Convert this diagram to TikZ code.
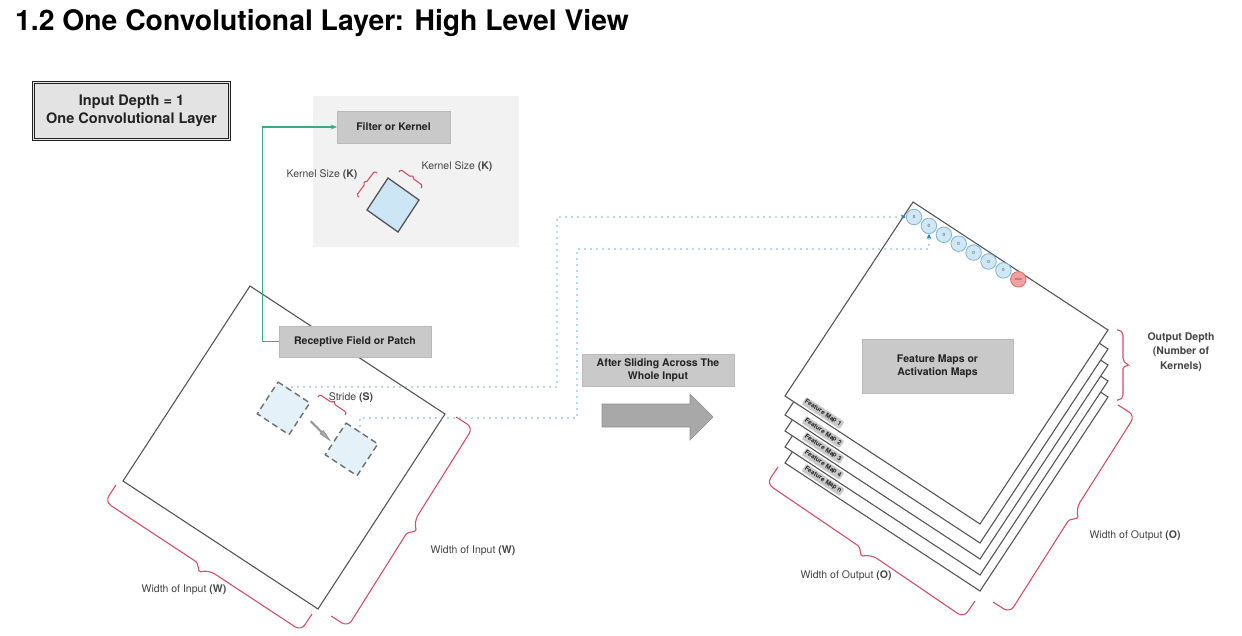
\documentclass[tikz,border=0pt]{standalone}
\usepackage{fontspec}
\setmainfont{TeX Gyre Heros}
\usetikzlibrary{arrows.meta,calc}
\definecolor{panel}{HTML}{F2F2F2}
\definecolor{boxgray}{HTML}{C9C9C9}
\definecolor{boxlight}{HTML}{E3E3E3}
\definecolor{txtdark}{HTML}{222222}
\definecolor{txtlabel}{HTML}{444444}
\definecolor{edge}{HTML}{555555}
\definecolor{kernfill}{HTML}{CDE6F5}
\definecolor{patchfill}{HTML}{E4F1F8}
\definecolor{conngreen}{HTML}{3DAA80}
\definecolor{dotteal}{HTML}{6FB8C2}
\definecolor{tipblue}{HTML}{2E7DB5}
\definecolor{bracered}{HTML}{D0506A}
\definecolor{arrowgray}{HTML}{A8A8A8}
\definecolor{cellfill}{HTML}{CFE7F6}
\definecolor{celldraw}{HTML}{7FB2D3}
\definecolor{redfill}{HTML}{F2A0A0}
\definecolor{reddraw}{HTML}{D86A6A}
\newcommand\redbrace[5][7pt]{%
  \coordinate (rbP) at ($(#2)!#4!90:(#3)$);
  \coordinate (rbQ) at ($(#3)!#4!-90:(#2)$);
  \coordinate (rbM) at ($(#2)!0.5!(#3)$);
  \coordinate (rbT) at ($(rbM)!#5!90:(#3)$);
  \draw[bracestyle] (#2) [rounded corners=#1] -- (rbP) -- ($(rbP)!0.47!(rbQ)$) [rounded corners=1.5pt] -- (rbT) -- ($(rbP)!0.53!(rbQ)$) [rounded corners=#1] -- (rbQ) -- (#3);}
\begin{document}
\begin{tikzpicture}[x=1pt,y=-1pt,
  every node/.style={inner sep=0pt, text=txtdark},
  graybox/.style={fill=boxgray, draw=boxgray!92!black, line width=0.4pt, align=center, font=\bfseries\fontsize{10.5}{13}\selectfont},
  lbl/.style={font=\fontsize{10.5}{13}\selectfont, text=txtlabel},
  sq/.style={draw=edge, line width=1.1pt, line join=miter},
  layer/.style={draw=edge, fill=white, line width=1.1pt, line join=miter},
  patch/.style={draw=edge!85, fill=patchfill, line width=1.4pt, dash pattern=on 6pt off 4pt},
  kern/.style={draw=edge, fill=kernfill, line width=1.3pt},
  bracestyle/.style={draw=bracered, line width=1.1pt},
  gconn/.style={draw=conngreen, line width=1.3pt, -{Stealth[length=6pt,width=5pt]}},
  dotconn/.style={draw=dotteal, line width=1.7pt, line cap=round, dash pattern=on 0pt off 6pt, -{Stealth[length=5pt,width=5pt,color=tipblue]}},
  cell/.style={circle, draw=celldraw, fill=cellfill, line width=0.8pt, minimum size=15.5pt, font=\fontsize{4.5}{4.5}\selectfont, text=txtlabel},
  redcell/.style={circle, draw=reddraw, fill=redfill, line width=0.8pt, minimum size=15.5pt, font=\fontsize{3}{3}\selectfont, text=txtlabel},
  fmlabel/.style={fill=boxgray, rounded corners=1pt, inner xsep=1.5pt, inner ysep=1.3pt, rotate=-33.3, font=\bfseries\fontsize{6.3}{7}\selectfont, text=txtdark},
  bigarrow/.style={fill=arrowgray, draw=arrowgray!85!black, line width=0.6pt}
]
\useasboundingbox (0,0) rectangle (1242,636);
\fill[white] (0,0) rectangle (1242,636);

% title
\node[anchor=base west, font=\bfseries\fontsize{28.3}{32}\selectfont, text=black] (title) at (15,31) {1.2 One Convolutional Layer: High Level View};

% input depth box
\node[draw=txtdark, double=boxlight, double distance=1.3pt, line width=1.3pt, fill=boxlight, minimum width=196, minimum height=57, align=center, font=\bfseries\fontsize{14.5}{18}\selectfont] (depth) at (131.5,111) {Input Depth = 1\\One Convolutional Layer};

% filter panel
\fill[panel] (313,96) rectangle (519,247);
\draw[kern] (388,178) -- (419,200) -- (398,232) -- (367,210) -- cycle;
\node[graybox, minimum width=113, minimum height=32] (fk) at (393.5,127) {Filter or Kernel};
\node[lbl] (ksl) at (322,175) {Kernel Size \textbf{(K)}};
\node[lbl] (ksr) at (457,167) {Kernel Size \textbf{(K)}};
\redbrace[1.5pt]{359,197}{377,173}{3pt}{6pt}
\redbrace[1.5pt]{399,172}{421,188}{3pt}{6pt}

% input square
\draw[sq] (250,286) -- (445,414) -- (318,609) -- (123,481) -- cycle;
\draw[patch] (278,382) -- (309.8,402.9) -- (289,434.7) -- (257.3,413.8) -- cycle;
\draw[patch] (346,423) -- (377.8,443.9) -- (357,475.7) -- (325.3,454.8) -- cycle;
\draw[bigarrow] (310.5,421.9) -- (321.2,432.6) -- (323.3,430.5) -- (330,440.5) -- (320,433.8) -- (322.1,431.7) -- (311.4,421) -- cycle;
\redbrace[2pt]{318,397}{345,415}{3pt}{6pt}
\node[lbl] (stride) at (351,398) {Stride \textbf{(S)}};
\node[graybox, minimum width=152, minimum height=31] (rf) at (355,341.5) {Receptive Field or Patch};
\draw[gconn] (rf.west) -- ++(-16,0) |- (fk.west);

% input braces
\redbrace{312,614}{116,485}{20pt}{27pt}
\redbrace{456,417}{331,616}{20pt}{27pt}
\node[lbl] (wil) at (184,590) {Width of Input \textbf{(W)}};
\node[lbl] (wir) at (473,551) {Width of Input \textbf{(W)}};

% big arrow and label
\node[graybox, minimum width=152, minimum height=32] (as) at (658,370) {After Sliding Across The\\Whole Input};
\draw[bigarrow] (602,404) -- (690,404) -- (690,394) -- (713,417) -- (690,440) -- (690,427) -- (602,427) -- cycle;

% output layers
\foreach \o/\t in {67/n,51/4,35/3,19/2,0/1} {
  \draw[layer] (913,202+\o) -- (1108,330+\o) -- (980,524+\o) -- (785,396+\o) -- cycle;
  \node[fmlabel] (fm\t) at (823,413+\o) {Feature Map \t};
}
\node[graybox, minimum width=151, minimum height=54] (fmbox) at (937.5,366) {Feature Maps or\\Activation Maps};

% cells
\foreach \i in {1,...,7} {
  \node[cell] (c\i) at ({914+(\i-1)*14.9},{217+(\i-1)*8.9}) {0};
}
\node[redcell] (c8) at (1018.3,279.3) {0000};

% dotted connectors
\coordinate (p1s) at (286,387);
\coordinate (p2s) at (360,432);
\coordinate (ub) at (557,387);
\coordinate (lb) at (577,418);
\draw[dotconn] (p1s) -- (ub) |- (c1.west);
\coordinate (lt) at (577,249);
\draw[dotconn] (p2s) |- (lb) -- (lt) -- (c2.south |- lt) -- (c2.south);

% output braces
\redbrace[5pt]{1117,330}{1117,400}{6pt}{12pt}
\node[lbl, font=\bfseries\fontsize{10.5}{14.5}\selectfont, align=center] (od) at (1181,352) {Output Depth\\(Number of\\Kernels)};
\redbrace{1118,405}{993,602}{20pt}{27pt}
\redbrace{975,601}{778,467}{20pt}{27pt}
\node[lbl] (wor) at (1135,536) {Width of Output \textbf{(O)}};
\node[lbl] (wol) at (846,576) {Width of Output \textbf{(O)}};
\end{tikzpicture}
\end{document}
